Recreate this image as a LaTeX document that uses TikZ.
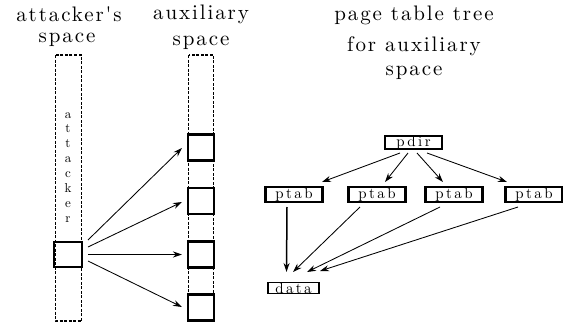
\documentclass[tikz,border=0pt]{standalone}
\usepackage{fontspec}
\newfontfamily\ttlfont{lmroman10-regular.otf}[LetterSpace=9]
\newfontfamily\lblfont{lmroman10-regular.otf}[LetterSpace=16]
\newfontfamily\vfont{lmroman10-regular.otf}
\usetikzlibrary{arrows.meta}
\begin{document}
\begin{tikzpicture}[x=1pt,y=-1pt,
  ttl/.style={font=\ttlfont\fontsize{21}{25}\selectfont, anchor=base, inner sep=0pt},
  col/.style={draw, line width=1.4pt, dash pattern=on 3pt off 1.5pt},
  sq/.style={draw, line width=2.5pt, minimum width=26pt, minimum height=26pt, inner sep=0pt},
  tbox/.style={draw, line width=2.5pt, minimum width=57pt, minimum height=14pt, inner sep=0pt,
    font=\lblfont\fontsize{15}{15}\selectfont},
  vlet/.style={font=\vfont\fontsize{13}{13}\selectfont, anchor=base, inner sep=0pt},
  arr/.style={line width=0.85pt, -{Stealth[length=9pt,width=6pt]}},
  arrthick/.style={line width=1.5pt, -{Stealth[length=9pt,width=6pt]}}
]
\useasboundingbox (0,0) rectangle (563,327);

% titles
\node[ttl] (t1a) at (69,21) {attacker's};
\node[ttl] (t1b) at (67,42) {space};
\node[ttl] (t2a) at (201,19) {auxiliary};
\node[ttl] (t2b) at (201,45) {space};
\node[ttl] (t3a) at (414,20) {page table tree};
\node[ttl] (t3b) at (414,51) {for auxiliary};
\node[ttl] (t3c) at (414,75) {space};

% columns
\draw[col] (55.5,55) rectangle (81.5,321);
\draw[col] (188.5,55) rectangle (213.5,321);

% vertical label
\foreach \l [count=\i from 0] in {a,t,t,a,c,k,e,r}
  \node[vlet] (v\i) at (68,{118+\i*14.86}) {\l};

% squares
\node[sq, minimum height=25pt, minimum width=28pt] (att) at (68,254.5) {};
\node[sq] (x1) at (201,147.5) {};
\node[sq] (x2) at (201,201) {};
\node[sq] (x3) at (201,254.5) {};
\node[sq] (x4) at (201,307.5) {};

\draw[arr] ([shift={(20,-14.5)}]att.center) -- ([shift={(-19,0.5)}]x1.center);
\draw[arr] ([shift={(20,-7.5)}]att.center) -- ([shift={(-19,1)}]x2.center);
\draw[arrthick] ([shift={(20,0)}]att.center) -- ([shift={(-19,0)}]x3.center);
\draw[arr] ([shift={(20,6.5)}]att.center) -- ([shift={(-19,-0.5)}]x4.center);

% tree
\node[tbox, minimum height=13pt] (pdir) at (413.5,142.5) {pdir};
\node[tbox, minimum height=15pt] (p1) at (294,194.5) {ptab};
\node[tbox, minimum height=15pt] (p2) at (377,194.5) {ptab};
\node[tbox, minimum height=15pt] (p3) at (454,194.5) {ptab};
\node[tbox, minimum height=15pt] (p4) at (534,194.5) {ptab};
\node[tbox, line width=1.9pt, minimum width=51pt, minimum height=11pt] (data) at (293.5,288) {data};

\draw[arr] ([shift={(-13.5,10.5)}]pdir.center) -- ([shift={(28,-12.5)}]p1.center);
\draw[arr] ([shift={(-5.5,10.5)}]pdir.center) -- ([shift={(8,-12.5)}]p2.center);
\draw[arr] ([shift={(3.5,10.5)}]pdir.center) -- ([shift={(-11,-12.5)}]p3.center);
\draw[arr] ([shift={(13.5,10.5)}]pdir.center) -- ([shift={(-27,-12.5)}]p4.center);

\draw[arrthick] ([shift={(-7,12.5)}]p1.center) -- ([shift={(-7,-16)}]data.center);
\draw[arr] ([shift={(-17,12.5)}]p2.center) -- ([shift={(-0.5,-16)}]data.center);
\draw[arr] ([shift={(-14,12.5)}]p3.center) -- ([shift={(13.5,-16)}]data.center);
\draw[arr] ([shift={(-16,12.5)}]p4.center) -- ([shift={(26.5,-17)}]data.center);
\end{tikzpicture}
\end{document}
